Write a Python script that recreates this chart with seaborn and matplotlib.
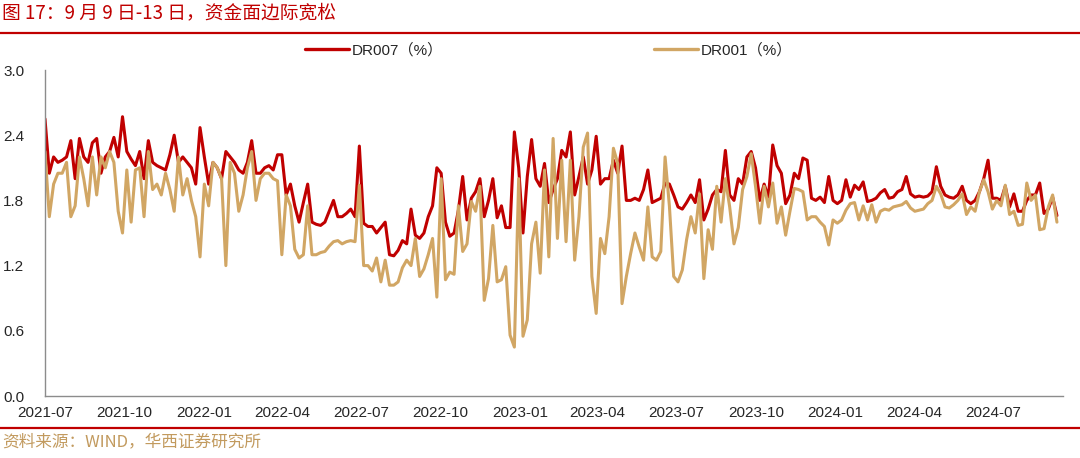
import numpy as np
import pandas as pd
import matplotlib
matplotlib.use("Agg")
import matplotlib.pyplot as plt
import matplotlib.dates as mdates
from matplotlib.lines import Line2D
from matplotlib.ticker import FormatStrFormatter
import seaborn as sns

# ---------------- data ----------------
dr007 = [
    2.55, 2.05, 2.2, 2.15, 2.17, 2.2, 2.35, 2.0, 2.37, 2.2,
    2.15, 2.33, 2.37, 2.05, 2.2, 2.25, 2.38, 2.2, 2.57, 2.25,
    2.18, 2.12, 2.25, 2.0, 2.35, 2.15, 2.12, 2.1, 2.08, 2.22,
    2.4, 2.15, 2.2, 2.15, 2.1, 1.95, 2.47, 2.2, 1.95, 2.15,
    2.1, 2.0, 2.25, 2.2, 2.15, 2.08, 2.05, 2.15, 2.35, 2.05,
    2.05, 2.1, 2.12, 2.08, 2.22, 2.22, 1.85, 1.95, 1.75, 1.6,
    1.78, 1.95, 1.6, 1.58, 1.57, 1.6, 1.7, 1.8, 1.65, 1.65,
    1.68, 1.72, 1.65, 2.3,
    1.59, 1.56, 1.56, 1.5, 1.55, 1.6, 1.3, 1.29, 1.34, 1.43,
    1.4, 1.72, 1.48, 1.45, 1.5, 1.65, 1.75, 2.1, 2.05, 1.6,
    1.47, 1.5, 1.71, 2.02, 1.62, 1.82, 1.88, 2.0, 1.65, 1.8,
    2.0, 1.64, 1.75, 1.55, 1.55, 2.43, 2.1, 1.5, 2.02, 2.36,
    2.0, 1.93, 2.14, 1.78, 1.9, 2.0, 2.26, 2.2, 2.43, 1.85,
    2.02, 2.2, 1.95, 2.08, 2.39, 1.95, 2.0, 2.0, 2.17, 2.05,
    2.3, 1.8, 1.8, 1.82, 1.8, 1.9, 2.08, 1.78, 1.8, 1.82,
    1.96, 1.95, 1.85, 1.74, 1.72, 1.78, 1.85, 1.78,
    1.99, 1.62, 1.72, 1.85, 1.9, 1.88, 2.26, 1.85, 1.8, 2.0,
    1.95, 2.2, 2.25, 2.1, 1.8, 1.95, 1.83, 2.31, 2.12, 2.05,
    1.77, 1.85, 2.05, 2.0, 2.19, 2.17, 1.82, 1.8, 1.83, 1.78,
    2.02, 1.8, 1.77, 1.8, 1.99, 1.83, 1.94, 1.9, 1.97, 1.79,
    1.8, 1.82, 1.87, 1.9, 1.82, 1.83, 1.88, 1.9, 2.02, 1.86,
    1.83, 1.84, 1.83, 1.84, 1.88, 2.11, 1.93, 1.85, 1.83, 1.82,
    1.85, 1.93, 1.8, 1.77, 1.8, 1.88, 2.0, 2.17, 1.82, 1.82,
    1.8, 1.93, 1.74, 1.86, 1.7, 1.7, 1.8, 1.85, 1.85, 1.96,
    1.68, 1.72, 1.83, 1.66,
]

dr001 = [
    2.25, 1.65, 1.95, 2.05, 2.05, 2.15, 1.65, 1.75, 2.2, 2.0,
    1.75, 2.2, 1.85, 2.2, 2.1, 2.25, 2.15, 1.7, 1.5, 2.08,
    1.6, 2.08, 2.1, 1.65, 2.25, 1.9, 1.95, 1.85, 2.05, 1.9,
    1.7, 2.2, 1.85, 2.0, 1.8, 1.65, 1.28, 1.95, 1.75, 2.15,
    2.1, 2.0, 1.2, 2.15, 2.05, 1.7, 1.85, 2.1, 2.25, 1.8,
    2.0, 2.05, 2.05, 2.0, 1.98, 1.3, 1.85, 1.75, 1.35, 1.27,
    1.3, 1.75, 1.3, 1.3, 1.32, 1.33, 1.38, 1.42, 1.43, 1.4,
    1.42, 1.43, 1.42, 1.94,
    1.2, 1.2, 1.15, 1.27, 1.05, 1.25, 1.02, 1.02, 1.05, 1.18,
    1.25, 1.2, 1.45, 1.1, 1.17, 1.3, 1.45, 0.91, 2.0, 1.07,
    1.14, 1.12, 1.75, 1.33, 1.4, 1.79, 1.7, 1.93, 0.88, 1.08,
    1.57, 1.05, 1.07, 1.19, 0.56, 0.45, 2.0, 0.55, 0.7, 1.4,
    1.6, 1.13, 2.08, 1.28, 2.37, 1.45, 2.17, 1.42, 2.17, 1.25,
    1.65, 2.29, 2.42, 1.1, 0.76, 1.45, 1.31, 1.65, 2.28, 2.14,
    0.85, 1.1, 1.31, 1.5, 1.37, 1.25, 1.74, 1.28, 1.25, 1.33,
    2.2, 1.75, 1.1, 1.05, 1.16, 1.44, 1.65, 1.5,
    1.86, 1.08, 1.53, 1.35, 1.93, 1.6, 2.0, 1.74, 1.4, 1.55,
    1.9, 2.02, 2.23, 1.93, 1.59, 1.93, 1.74, 1.96, 1.59, 1.74,
    1.48, 1.7, 1.91, 1.9, 1.88, 1.62, 1.65, 1.65, 1.6, 1.56,
    1.39, 1.62, 1.59, 1.62, 1.71, 1.77, 1.78, 1.62, 1.75, 1.62,
    1.76, 1.6, 1.7, 1.72, 1.71, 1.74, 1.75, 1.76, 1.79, 1.73,
    1.7, 1.71, 1.72, 1.77, 1.8, 1.93, 1.86, 1.74, 1.73, 1.76,
    1.8, 1.86, 1.67, 1.74, 1.7, 1.88, 1.99, 1.88, 1.72, 1.8,
    1.75, 1.94, 1.67, 1.7, 1.57, 1.58, 1.96, 1.8, 1.85, 1.53,
    1.54, 1.74, 1.85, 1.6,
]

start_date = "2021-07-01"
end_date = "2024-09-13"
series_names = ["DR007（%）", "DR001（%）"]
x_tick_labels = ["2021-07", "2021-10", "2022-01", "2022-04", "2022-07", "2022-10",
                 "2023-01", "2023-04", "2023-07", "2023-10", "2024-01", "2024-04", "2024-07"]
y_ticks = [0.0, 0.6, 1.2, 1.8, 2.4, 3.0]
title_text = "图 17：9 月 9 日-13 日，资金面边际宽松"
source_text = "资料来源：WIND，华西证券研究所"

dates = pd.date_range(start_date, end_date, periods=len(dr007))
df = pd.concat([
    pd.DataFrame({"date": dates, "value": dr007, "series": series_names[0]}),
    pd.DataFrame({"date": dates, "value": dr001, "series": series_names[1]}),
])

# ---------------- style ----------------
sns.set_style("white")
plt.rcParams["font.family"] = ["Liberation Sans", "Noto Sans CJK SC", "DejaVu Sans"]

RED = "#C00000"
TAN = "#D1A664"
AXIS = "#8C8C8C"
TXT = "#262626"

fig = plt.figure(figsize=(10.8, 4.58), dpi=100)
ax = fig.add_axes([45 / 1080, 1 - 396 / 458, (1063 - 45) / 1080, (396 - 70) / 458])

sns.lineplot(data=df, x="date", y="value", hue="series", hue_order=series_names,
             palette=[RED, TAN], linewidth=2.2, ax=ax, legend=False)

ax.set_ylim(0, 3.0)
ax.set_xlim(pd.Timestamp("2021-07-01"), pd.Timestamp("2024-09-20"))
ax.set_yticks(y_ticks)
ax.yaxis.set_major_formatter(FormatStrFormatter("%.1f"))
ax.set_xticks([pd.Timestamp(s + "-01") for s in x_tick_labels])
ax.set_xticklabels(x_tick_labels)
ax.set_xlabel("")
ax.set_ylabel("")

for s in ["top", "right"]:
    ax.spines[s].set_visible(False)
for s in ["left", "bottom"]:
    ax.spines[s].set_color(AXIS)
    ax.spines[s].set_linewidth(1.0)

ax.tick_params(axis="y", direction="out", length=3, width=0.8, color=AXIS,
               labelsize=11, labelcolor=TXT, pad=12)
ax.tick_params(axis="x", direction="in", length=4, width=0.8, color="#555555",
               labelsize=11, labelcolor=TXT, pad=7)

# legend
handles = [Line2D([0], [0], color=RED, lw=2.4), Line2D([0], [0], color=TAN, lw=2.4)]
fig.legend(handles, series_names, loc="center", bbox_to_anchor=(0.508, 1 - 50 / 458),
           ncol=2, frameon=False, fontsize=11, handlelength=2.9, handletextpad=0.15,
           columnspacing=13.8, labelcolor=TXT)

# title, rules and source
fig.text(0.002, 1 - 13 / 458, title_text, color=RED, fontsize=13.5,
         family=["Noto Sans CJK SC", "DejaVu Sans"], ha="left", va="center")
fig.add_artist(Line2D([0, 1], [1 - 33 / 458, 1 - 33 / 458], color=RED, lw=1.6,
                      transform=fig.transFigure))
fig.add_artist(Line2D([0, 1], [1 - 428 / 458, 1 - 428 / 458], color=RED, lw=1.6,
                      transform=fig.transFigure))
fig.text(0.002, 1 - 442 / 458, source_text, color="#C29A5E", fontsize=12,
         family=["Noto Sans CJK SC", "DejaVu Sans"], ha="left", va="center")

fig.savefig("out.png", dpi=100)
